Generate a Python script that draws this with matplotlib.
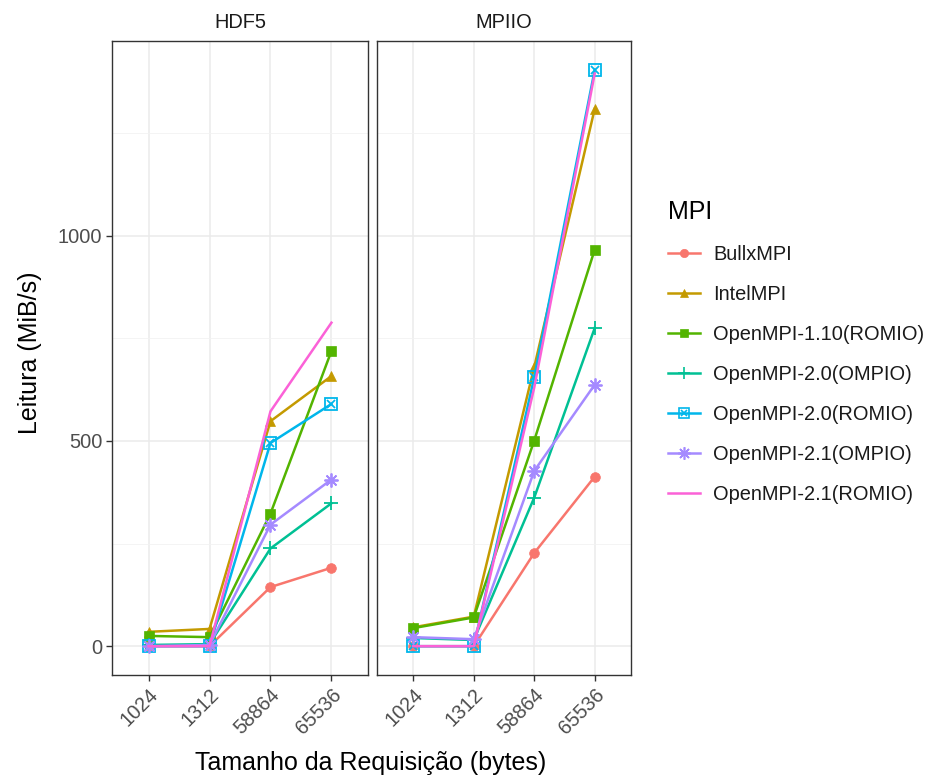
import numpy as np
import matplotlib
matplotlib.use("Agg")
import matplotlib.pyplot as plt
from matplotlib.lines import Line2D
from matplotlib.legend_handler import HandlerTuple

plt.rcParams["font.family"] = ["Liberation Sans", "DejaVu Sans"]

# ---------------------- data ----------------------
sizes = ["1024", "1312", "58864", "65536"]
panels = ["HDF5", "MPIIO"]
series = ["BullxMPI", "IntelMPI", "OpenMPI-1.10(ROMIO)", "OpenMPI-2.0(OMPIO)",
          "OpenMPI-2.0(ROMIO)", "OpenMPI-2.1(OMPIO)", "OpenMPI-2.1(ROMIO)"]

hdf5_bullx = [0, 0, 144, 191]
hdf5_intel = [35, 42, 548, 658]
hdf5_ompi110_romio = [25, 22, 323, 719]
hdf5_ompi20_ompio = [3, 5, 238, 348]
hdf5_ompi20_romio = [0, 0, 495, 590]
hdf5_ompi21_ompio = [0, 3, 296, 406]
hdf5_ompi21_romio = [0, 0, 572, 788]

mpiio_bullx = [0, 0, 227, 413]
mpiio_intel = [46, 72, 680, 1309]
mpiio_ompi110_romio = [44, 70, 501, 966]
mpiio_ompi20_ompio = [20, 15, 362, 775]
mpiio_ompi20_romio = [0, 0, 655, 1404]
mpiio_ompi21_ompio = [22, 17, 427, 637]
mpiio_ompi21_romio = [0, 0, 630, 1395]

data = {
    "HDF5": [hdf5_bullx, hdf5_intel, hdf5_ompi110_romio, hdf5_ompi20_ompio,
             hdf5_ompi20_romio, hdf5_ompi21_ompio, hdf5_ompi21_romio],
    "MPIIO": [mpiio_bullx, mpiio_intel, mpiio_ompi110_romio, mpiio_ompi20_ompio,
              mpiio_ompi20_romio, mpiio_ompi21_ompio, mpiio_ompi21_romio],
}

# ggplot default hue palette for 7 groups
colors = ["#F8766D", "#C49A00", "#53B400", "#00C094", "#00B6EB", "#A58AFF", "#FB61D7"]
# marker styles: (marker, filled)
markers = [("o", True), ("^", True), ("s", True), ("+", False),
           ("sx", False), ((8, 2, 0), False), (None, False)]

W, H = 943, 778
fig = plt.figure(figsize=(W / 100, H / 100), dpi=100)

def px_axes(x0, y0, x1, y1):
    return fig.add_axes([x0 / W, 1 - y1 / H, (x1 - x0) / W, (y1 - y0) / H])

allv = np.concatenate([np.array(v) for p in panels for v in data[p]])
lo, hi = allv.min(), allv.max()
pad = 0.05 * (hi - lo)

panel_px = [(112, 41, 368, 675), (377, 41, 631, 675)]
x = np.arange(len(sizes))
lw = 1.8
ms = 7
small = 14.4
big = 18

for pi, (pname, box) in enumerate(zip(panels, panel_px)):
    ax = px_axes(*box)
    ax.set_facecolor("white")
    ax.set_xlim(-0.6, len(sizes) - 1 + 0.6)
    ax.set_ylim(lo - pad, hi + pad)
    ax.set_yticks([0, 500, 1000])
    ax.set_yticks([250, 750, 1250], minor=True)
    ax.set_xticks(x)
    ax.set_xticklabels(sizes, rotation=45, ha="right", rotation_mode="anchor",
                       fontsize=small, color="#4D4D4D")
    ax.grid(which="major", color="#EBEBEB", lw=1.1, zorder=0)
    ax.grid(which="minor", axis="y", color="#F2F2F2", lw=0.6, zorder=0)
    ax.set_axisbelow(True)
    for s in ax.spines.values():
        s.set_color("#333333")
        s.set_linewidth(1.0)
    ax.tick_params(axis="both", which="major", length=4, color="#333333",
                   width=1.0, labelsize=small, labelcolor="#4D4D4D", pad=3)
    ax.tick_params(axis="y", which="minor", length=0)
    if pi == 0:
        ax.set_yticklabels(["0", "500", "1000"])
    else:
        ax.tick_params(axis="y", labelleft=False, left=False)
    ax.set_title(pname, fontsize=small, color="#1A1A1A", pad=9)

    for si, name in enumerate(series):
        vals = data[pname][si]
        c = colors[si]
        mk, filled = markers[si]
        if mk == "sx":
            ax.plot(x, vals, color=c, lw=lw, marker="s", ms=ms + 1,
                    mfc="none", mec=c, mew=1.3, zorder=3)
            ax.plot(x, vals, color=c, lw=0, marker="x", ms=ms - 1,
                    mec=c, mew=1.3, zorder=3)
        elif mk is None:
            ax.plot(x, vals, color=c, lw=lw, zorder=3)
        else:
            ax.plot(x, vals, color=c, lw=lw, marker=mk,
                    ms=ms + (3 if not filled else 0),
                    mew=1.3 if not filled else 0.5, mec=c, mfc=c, zorder=3)

# legend built from the same styles
legend_handles = []
for si, name in enumerate(series):
    c = colors[si]
    mk, filled = markers[si]
    if mk == "sx":
        h = (Line2D([], [], color=c, lw=lw, marker="s", ms=ms, mfc="none", mec=c, mew=1.2),
             Line2D([], [], color=c, lw=0, marker="x", ms=ms - 2, mec=c, mew=1.2))
    elif mk is None:
        h = Line2D([], [], color=c, lw=lw)
    else:
        h = Line2D([], [], color=c, lw=lw, marker=mk, ms=ms + (3 if not filled else 0) - 1,
                   mew=1.2 if not filled else 0.5, mec=c, mfc=c)
    legend_handles.append(h)

leg = fig.legend(legend_handles, series, title="MPI",
                 loc="upper left", bbox_to_anchor=(668 / W, 1 - 200 / H),
                 frameon=False, fontsize=small, title_fontsize=big,
                 borderpad=0, borderaxespad=0,
                 handlelength=1.6, handletextpad=0.65, labelspacing=1.05,
                 handler_map={tuple: HandlerTuple(ndivide=1, pad=0)})
leg._legend_box.align = "left"
for t in leg.get_texts():
    t.set_color("#1A1A1A")

fig.text(371 / W, 1 - 763 / H, "Tamanho da Requisição (bytes)", fontsize=big,
         ha="center", va="center", color="black")
fig.text(30 / W, 1 - 353 / H, "Leitura (MiB/s)", fontsize=big,
         ha="center", va="center", rotation=90, color="black")

fig.savefig("out.png", dpi=100)
